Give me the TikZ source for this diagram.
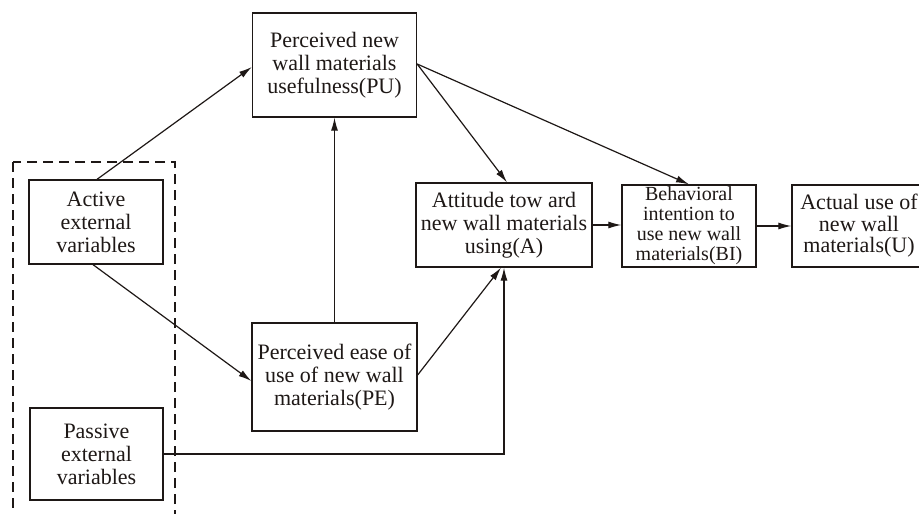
\documentclass[tikz,border=0pt]{standalone}
\usepackage{fontspec}
\setmainfont{Liberation Serif}
\usetikzlibrary{arrows.meta}
\definecolor{ink}{RGB}{30,24,22}
\tikzset{
  box/.style={draw=ink, line width=1.3pt, text=ink, align=center, inner sep=0pt,
    font=\fontsize{22}{23}\selectfont},
  link/.style={draw=ink, line width=1.2pt, -{Latex[length=13pt,width=7pt]}},
  group/.style={draw=ink, line width=1.3pt, dash pattern=on 10pt off 6pt}
}
\begin{document}
\begin{tikzpicture}[x=1pt,y=-1pt]
\clip (0,0) rectangle (919,514);
\fill[white] (0,0) rectangle (919,514);

% group of external variables
\draw[group] (13,162) rectangle (175,540);

% boxes
\node[box, minimum width=164pt, minimum height=104pt] (pu) at (334.5,65)
  {Perceived new\\wall materials\\usefulness(PU)};
\node[box, minimum width=134pt, minimum height=84pt] (act) at (96,222)
  {Active\\external\\variables};
\node[box, minimum width=165pt, minimum height=108pt] (pe) at (334.5,377)
  {Perceived ease of\\use of new wall\\materials(PE)};
\node[box, minimum width=133pt, minimum height=92pt] (pas) at (96.5,454)
  {Passive\\external\\variables};
\node[box, minimum width=176pt, minimum height=84pt] (att) at (504,225)
  {Attitude tow ard\\new wall materials\\using(A)};
\node[box, minimum width=134pt, minimum height=82pt,
      font=\fontsize{20}{20}\selectfont] (bi) at (689,226)
  {Behavioral\\intention to\\use new wall\\materials(BI)};
\node[box, minimum width=134pt, minimum height=82pt,
      font=\fontsize{22}{21.5}\selectfont] (use) at (859,226)
  {Actual use of\\new wall\\materials(U)};

% connectors
\draw[link] ([xshift=1pt]act.north) -- ([yshift=-2pt]pu.west);
\draw[link] ([xshift=-3pt]act.south) -- ([yshift=-4pt]pe.west);
\draw[link] (pe.north) -- (pu.south);
\draw[link] ([yshift=2pt]pe.east) -- ([xshift=-3pt]att.south);
\draw[link] (pas.east) -| (att.south);
\draw[link] ([yshift=1pt]pu.east) -- ([xshift=3pt]att.north);
\draw[link] ([yshift=1pt]pu.east) -- (bi.north);
\draw[link] (att.east) -- (att.east -| bi.west);
\draw[link] (bi.east) -- (bi.east -| use.west);
\end{tikzpicture}
\end{document}
